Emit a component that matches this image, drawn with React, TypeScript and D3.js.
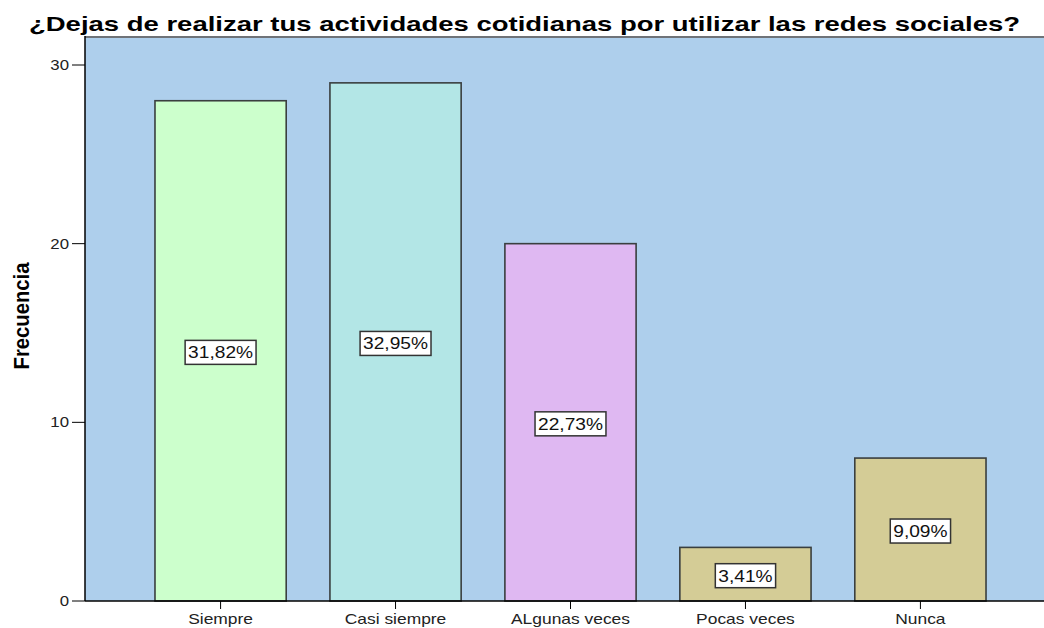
import React, { useEffect, useRef } from "react";
import * as d3 from "d3";

const categories = ["Siempre", "Casi siempre", "ALgunas veces", "Pocas veces", "Nunca"];
const frequencies = [28, 29, 20, 3, 8];
const percentLabels = ["31,82%", "32,95%", "22,73%", "3,41%", "9,09%"];
const barColors = ["#CCFFCC", "#B3E6E6", "#DFB8F2", "#D4CC96", "#D4CC96"];
const yTicks = [0, 10, 20, 30];
const titleText = "¿Dejas de realizar tus actividades cotidianas por utilizar las redes sociales?";
const yAxisTitle = "Frecuencia";

const W = 1044;
const H = 628;
const FONT = "'Liberation Sans', Arial, sans-serif";

export default function App() {
  const ref = useRef<SVGSVGElement | null>(null);

  useEffect(() => {
    const svg = d3.select(ref.current);
    svg.selectAll("*").remove();

    const plotLeft = 85;
    const plotTop = 37;
    const plotBottom = 601;

    const x = d3.scaleBand<string>().domain(categories).range([plotLeft, 1056]).paddingInner(0.25).paddingOuter(0.4);
    const y = d3.scaleLinear().domain([0, 30]).range([plotBottom, 65]);

    const stretch = (sel: any, factor: number) => {
      sel.each(function (this: SVGTextElement) {
        const len = this.getComputedTextLength();
        this.setAttribute("textLength", String(len * factor));
        this.setAttribute("lengthAdjust", "spacingAndGlyphs");
      });
    };

    // plot background
    svg.append("rect").attr("x", plotLeft).attr("y", plotTop).attr("width", W - plotLeft).attr("height", plotBottom - plotTop).attr("fill", "#AECFEC");
    svg.append("line").attr("x1", plotLeft).attr("x2", W).attr("y1", plotTop).attr("y2", plotTop).attr("stroke", "#6f7378").attr("stroke-width", 2);

    // bars
    const g = svg.append("g");
    categories.forEach((c, i) => {
      g.append("rect")
        .attr("x", x(c)!)
        .attr("y", y(frequencies[i]))
        .attr("width", x.bandwidth())
        .attr("height", plotBottom - y(frequencies[i]))
        .attr("fill", barColors[i])
        .attr("stroke", "#3a3f3f")
        .attr("stroke-width", 1.6);
    });

    // axes lines
    svg.append("line").attr("x1", plotLeft).attr("x2", plotLeft).attr("y1", plotTop - 1).attr("y2", plotBottom).attr("stroke", "#000").attr("stroke-width", 1.5);
    svg.append("line").attr("x1", plotLeft).attr("x2", W).attr("y1", plotBottom).attr("y2", plotBottom).attr("stroke", "#000").attr("stroke-width", 1.5);

    // y ticks
    yTicks.forEach((t) => {
      svg.append("line").attr("x1", plotLeft - 13).attr("x2", plotLeft).attr("y1", y(t)).attr("y2", y(t)).attr("stroke", "#000").attr("stroke-width", 1);
      const tx = svg.append("text").attr("x", plotLeft - 16).attr("y", y(t) + 5).attr("text-anchor", "end")
        .attr("font-family", FONT).attr("font-size", 14).attr("fill", "#222").text(String(t));
      stretch(tx, 1.2);
    });

    // x ticks and labels
    categories.forEach((c) => {
      const cx = x(c)! + x.bandwidth() / 2;
      svg.append("line").attr("x1", cx).attr("x2", cx).attr("y1", plotBottom).attr("y2", plotBottom + 8).attr("stroke", "#000").attr("stroke-width", 1);
      const tx = svg.append("text").attr("x", cx).attr("y", 624).attr("text-anchor", "middle")
        .attr("font-family", FONT).attr("font-size", 14.5).attr("fill", "#222").text(c);
      stretch(tx, 1.2);
    });

    // percentage labels
    categories.forEach((c, i) => {
      const cx = x(c)! + x.bandwidth() / 2;
      const cy = (y(frequencies[i]) + plotBottom) / 2 + 1.5;
      const lg = svg.append("g");
      const box = lg.append("rect");
      const tx = lg.append("text").attr("x", cx).attr("y", cy + 6).attr("text-anchor", "middle")
        .attr("font-family", FONT).attr("font-size", 16.5).attr("fill", "#111").text(percentLabels[i]);
      stretch(tx, 1.16);
      const tw = parseFloat(tx.attr("textLength"));
      box.attr("x", cx - tw / 2 - 3).attr("y", cy - 12).attr("width", tw + 6).attr("height", 24)
        .attr("fill", "#fff").attr("stroke", "#333").attr("stroke-width", 1.5);
    });

    // title
    const title = svg.append("text").attr("x", 29).attr("y", 31)
      .attr("font-family", FONT).attr("font-weight", "bold").attr("font-size", 21).attr("fill", "#000").text(titleText);
    title.each(function (this: SVGTextElement) {
      this.setAttribute("textLength", "991");
      this.setAttribute("lengthAdjust", "spacingAndGlyphs");
    });

    // y axis title
    const yt = svg.append("text").attr("transform", `translate(29,316) rotate(-90)`).attr("text-anchor", "middle")
      .attr("font-family", FONT).attr("font-weight", "bold").attr("font-size", 22).attr("fill", "#000").text(yAxisTitle);
    yt.each(function (this: SVGTextElement) {
      this.setAttribute("textLength", "107");
      this.setAttribute("lengthAdjust", "spacingAndGlyphs");
    });
  }, []);

  return (
    <svg
      ref={ref}
      width={W}
      height={H}
      style={{ position: "absolute", left: 0, top: 0, background: "#fff" }}
    />
  );
}
